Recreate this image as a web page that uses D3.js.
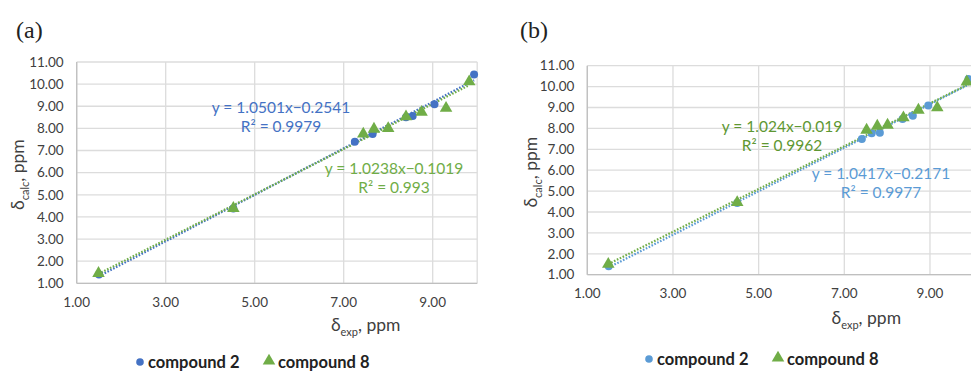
<!DOCTYPE html>
<html>
<head>
<meta charset="utf-8">
<script src="https://cdn.jsdelivr.net/npm/d3@7"></script>
<style>
  body { margin: 0; background: #fff; }
  svg { display: block; font-family: Lato, "Open Sans", sans-serif; }
</style>
</head>
<body>
<div></div>
<script>
const width = 971
const height = 374

// x ticks / y ticks shared by both panels
const xTicks = [1, 3, 5, 7, 9]
const yTicks = [1, 2, 3, 4, 5, 6, 7, 8, 9, 10, 11]
const seriesNames = ["compound 2", "compound 8"]

// panel (a)
const aComp2X = [1.50, 4.52, 7.25, 7.65, 8.40, 8.55, 9.04, 9.93]
const aComp2Y = [1.40, 4.38, 7.40, 7.75, 8.50, 8.56, 9.09, 10.43]
const aComp8X = [1.49, 4.52, 7.44, 7.68, 8.00, 8.40, 8.75, 9.30, 9.82]
const aComp8Y = [1.45, 4.39, 7.75, 7.97, 8.00, 8.53, 8.73, 8.91, 10.11]
const aFit2 = [1.0501, -0.2541], aR2_2 = "0.9979"
const aFit8 = [1.0238, -0.1019], aR2_8 = "0.993"

// panel (b)
const bComp2X = [1.50, 4.50, 7.41, 7.64, 7.83, 8.36, 8.60, 8.96, 9.90]
const bComp2Y = [1.40, 4.43, 7.49, 7.77, 7.79, 8.45, 8.61, 9.09, 10.36]
const bComp8X = [1.49, 4.50, 7.52, 7.77, 8.01, 8.38, 8.73, 9.17, 9.86]
const bComp8Y = [1.50, 4.46, 7.92, 8.11, 8.16, 8.51, 8.88, 8.99, 10.23]
const bFit2 = [1.0417, -0.2171], bR2_2 = "0.9977"
const bFit8 = [1.024, -0.019], bR2_8 = "0.9962"

const green = "#70ad47"

const panels = [
  {
    tag: "(a)", tagX: 16, tagY: 38,
    left: 76.7, top: 62, w: 400.5, h: 221.3,
    blue: "#4472c4", greenText: green,
    c2: d3.zip(aComp2X, aComp2Y), c8: d3.zip(aComp8X, aComp8Y),
    fit2: aFit2, fit8: aFit8, r2_2: aR2_2, r2_8: aR2_8,
    eq2: [281, 108], eq8: [394, 169],
    yLabelX: 24, xLabelY: 331, legendY: 362, legendX: 140
  },
  {
    tag: "(b)", tagX: 520, tagY: 38,
    left: 587.3, top: 65.7, w: 385.5, h: 209,
    blue: "#5b9bd5", greenText: "#5e9732",
    c2: d3.zip(bComp2X, bComp2Y), c8: d3.zip(bComp8X, bComp8Y),
    fit2: bFit2, fit8: bFit8, r2_2: bR2_2, r2_8: bR2_8,
    eq2: [881, 174], eq8: [782, 127],
    yLabelX: 537, xLabelY: 324, legendY: 359, legendX: 649
  }
]

const svg = d3.select("div")
    .append("svg")
    .attr("width", width)
    .attr("height", height)

const tri = d3.symbol().type(d3.symbolTriangle).size(68)

panels.forEach(function(p, i) {
  const x = d3.scaleLinear().domain([1, 10]).range([p.left, p.left + p.w])
  const y = d3.scaleLinear().domain([1, 11]).range([p.top + p.h, p.top])
  const g = svg.append("g")

  g.append("text")
      .attr("x", p.tagX).attr("y", p.tagY)
      .attr("font-family", "'Liberation Serif', serif")
      .attr("font-size", 24)
      .attr("fill", "#222")
      .text(p.tag)

  // grid
  g.selectAll(".hg").data(yTicks).join("line")
      .attr("x1", p.left).attr("x2", p.left + p.w)
      .attr("y1", d => y(d)).attr("y2", d => y(d))
      .attr("stroke", "#dcdcdc").attr("stroke-width", 1.3)
  g.selectAll(".vg").data(xTicks.concat([10])).join("line")
      .attr("x1", d => x(d)).attr("x2", d => x(d))
      .attr("y1", p.top).attr("y2", p.top + p.h)
      .attr("stroke", "#dcdcdc").attr("stroke-width", 1.3)

  // axes lines
  g.append("line")
      .attr("x1", p.left).attr("x2", p.left).attr("y1", p.top).attr("y2", p.top + p.h)
      .attr("stroke", "#bfbfbf").attr("stroke-width", 1.3)
  g.append("line")
      .attr("x1", p.left).attr("x2", p.left + p.w).attr("y1", p.top + p.h).attr("y2", p.top + p.h)
      .attr("stroke", "#bfbfbf").attr("stroke-width", 1.3)

  // tick labels
  g.selectAll(".yl").data(yTicks).join("text")
      .attr("x", p.left - 13).attr("y", d => y(d))
      .attr("dy", "0.35em").attr("text-anchor", "end")
      .attr("font-size", 13.5).attr("fill", "#404040")
      .text(d => d.toFixed(2))
  g.selectAll(".xl").data(xTicks).join("text")
      .attr("x", d => x(d)).attr("y", p.top + p.h + 19)
      .attr("dy", "0.35em").attr("text-anchor", "middle")
      .attr("font-size", 13.5).attr("fill", "#404040")
      .text(d => d.toFixed(2))

  // axis titles
  const xt = g.append("text")
      .attr("x", p.left + (x(9) - p.left) * 0.75 + 22).attr("y", p.xLabelY)
      .attr("text-anchor", "middle").attr("font-size", 17.5).attr("fill", "#404040")
  xt.append("tspan").text("δ")
  xt.append("tspan").attr("font-size", 11).attr("dy", 5).text("exp")
  xt.append("tspan").attr("dy", -5).text(", ppm")

  const yt = g.append("text")
      .attr("transform", `translate(${p.yLabelX},${p.top + p.h / 2 + 2}) rotate(-90)`)
      .attr("text-anchor", "middle").attr("font-size", 17.5).attr("fill", "#404040")
  yt.append("tspan").text("δ")
  yt.append("tspan").attr("font-size", 11).attr("dy", 5).text("calc")
  yt.append("tspan").attr("dy", -5).text(", ppm")

  // trendlines
  const fits = [[p.fit2, p.c2, p.blue], [p.fit8, p.c8, green]]
  fits.forEach(function(f) {
    const ext = d3.extent(f[1], d => d[0])
    g.append("line")
        .attr("x1", x(ext[0])).attr("y1", y(f[0][0] * ext[0] + f[0][1]))
        .attr("x2", x(ext[1])).attr("y2", y(f[0][0] * ext[1] + f[0][1]))
        .attr("stroke", f[2]).attr("stroke-width", 2.2)
        .attr("stroke-dasharray", "1.6,1.6")
  })

  // markers
  g.selectAll(".c2").data(p.c2).join("circle")
      .attr("cx", d => x(d[0])).attr("cy", d => y(d[1]))
      .attr("r", 4).attr("fill", p.blue)
  g.selectAll(".c8").data(p.c8).join("path")
      .attr("d", tri)
      .attr("transform", d => `translate(${x(d[0])},${y(d[1])})`)
      .attr("fill", green)

  // equations
  const eqs = [
    [p.eq2, p.blue, `y = ${p.fit2[0]}x\u2212${Math.abs(p.fit2[1])}`, p.r2_2],
    [p.eq8, p.greenText, `y = ${p.fit8[0]}x\u2212${Math.abs(p.fit8[1])}`, p.r2_8]
  ]
  eqs.forEach(function(e) {
    g.append("text")
        .attr("x", e[0][0]).attr("y", e[0][1]).attr("dy", "0.35em")
        .attr("text-anchor", "middle").attr("font-size", 15.5).attr("fill", e[1])
        .text(e[2])
    g.append("text")
        .attr("x", e[0][0]).attr("y", e[0][1] + 19).attr("dy", "0.35em")
        .attr("text-anchor", "middle").attr("font-size", 15.5).attr("fill", e[1])
        .text("R\u00b2 = " + e[3])
  })

  // legend
  const lg = g.append("g").attr("transform", `translate(${p.legendX},${p.legendY})`)
  lg.append("circle").attr("cx", 0).attr("cy", 0).attr("r", 3.8).attr("fill", p.blue)
  lg.append("text").attr("x", 8).attr("y", 0).attr("dy", "0.35em")
      .attr("font-size", 16.5).attr("font-weight", "bold").attr("fill", "#222")
      .text(seriesNames[0])
  lg.append("path").attr("d", tri).attr("transform", "translate(129,-1)").attr("fill", green)
  lg.append("text").attr("x", 138).attr("y", 0).attr("dy", "0.35em")
      .attr("font-size", 16.5).attr("font-weight", "bold").attr("fill", "#222")
      .text(seriesNames[1])
})
</script>
</body>
</html>
